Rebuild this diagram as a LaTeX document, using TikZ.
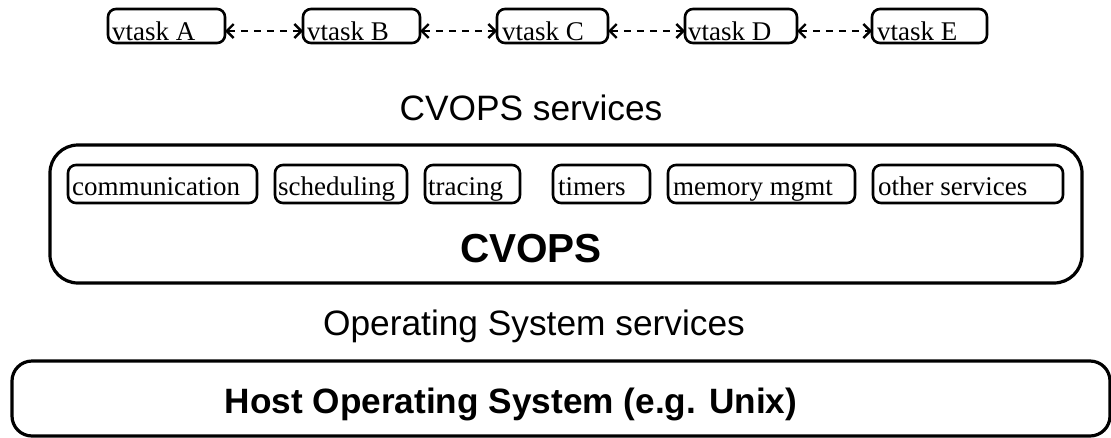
\documentclass[tikz,border=0pt]{standalone}
\usepackage{fontspec}
\setmainfont{Liberation Serif}
\newfontfamily\arialfont{Liberation Sans}
\usetikzlibrary{arrows.meta}
\begin{document}
\begin{tikzpicture}[x=1pt,y=-1pt,
  tbox/.style={draw=black, line width=2.6pt, rounded corners=8pt, rectangle, inner sep=0pt, outer sep=0pt},
  ttxt/.style={anchor=base west, inner sep=0pt, font=\fontsize{27}{30}\selectfont},
  bigbox/.style={draw=black, line width=3.2pt, rectangle, inner sep=0pt, outer sep=0pt},
  stxt/.style={anchor=base, inner sep=0pt, font=\arialfont\fontsize{35.3}{40}\selectfont},
  btxt/.style={anchor=base, inner sep=0pt, font=\arialfont\bfseries\fontsize{40.5}{45}\selectfont},
  htxt/.style={anchor=base, inner sep=0pt, font=\arialfont\bfseries\fontsize{35.2}{40}\selectfont},
  link/.style={line width=2.4pt, dash pattern=on 7pt off 6pt, {Straight Barb[length=7pt,width=14pt,line width=2.4pt]}-{Straight Barb[length=7pt,width=14pt,line width=2.4pt]}}
]
\useasboundingbox (0,0) rectangle (1111,437);

% vtasks
\node[tbox, minimum width=117pt, minimum height=34pt] (A) at (166.5,26) {};
\node[tbox, minimum width=117pt, minimum height=34pt] (B) at (361.5,26) {};
\node[tbox, minimum width=111pt, minimum height=34pt] (C) at (552.5,26) {};
\node[tbox, minimum width=112pt, minimum height=34pt] (D) at (741,26) {};
\node[tbox, minimum width=115pt, minimum height=34pt] (E) at (929.5,26) {};
\node[ttxt] (tA) at (112,40) {vtask A};
\node[ttxt] (tB) at (307,40) {vtask B};
\node[ttxt] (tC) at (502,40) {vtask C};
\node[ttxt] (tD) at (688,40) {vtask D};
\node[ttxt] (tE) at (877,40) {vtask E};

\coordinate (a1) at (A.east |- 0,31);
\coordinate (b0) at (B.west |- 0,31);
\coordinate (b1) at (B.east |- 0,31);
\coordinate (c0) at (C.west |- 0,31);
\coordinate (c1) at (C.east |- 0,31);
\coordinate (d0) at (D.west |- 0,31);
\coordinate (d1) at (D.east |- 0,31);
\coordinate (e0) at (E.west |- 0,31);
\draw[link] (a1) -- (b0);
\draw[link] (b1) -- (c0);
\draw[link] (c1) -- (d0);
\draw[link] (d1) -- (e0);

\node[stxt] (svc) at (531,120) {CVOPS services};

% CVOPS box
\node[bigbox, rounded corners=28pt, minimum width=1032pt, minimum height=138pt] (cvops) at (566,214) {};
\node[tbox, minimum width=189pt, minimum height=38pt] (comm) at (162.5,184) {};
\node[tbox, minimum width=132pt, minimum height=38pt] (sched) at (341,184) {};
\node[tbox, minimum width=95pt, minimum height=38pt] (trac) at (472.5,184) {};
\node[tbox, minimum width=97pt, minimum height=38pt] (tim) at (601.5,184) {};
\node[tbox, minimum width=187pt, minimum height=38pt] (mem) at (761.5,184) {};
\node[tbox, minimum width=190pt, minimum height=38pt] (oth) at (968,184) {};
\node[ttxt] (tcomm) at (72,195) {communication};
\node[ttxt] (tsched) at (278,195) {scheduling};
\node[ttxt] (ttrac) at (428,195) {tracing};
\node[ttxt] (ttim) at (558,195) {timers};
\node[ttxt] (tmem) at (673,195) {memory mgmt};
\node[ttxt] (toth) at (878,195) {other services};
\node[btxt] (cv) at (531,262) {CVOPS};

\node[stxt] (oss) at (534,335) {Operating System services};

% Host box
\node[bigbox, rounded corners=20pt, minimum width=1098pt, minimum height=75pt] (host) at (561,398.5) {};
\node[htxt] (ht) at (511,413) {Host Operating System (e.g. Unix)};
\end{tikzpicture}
\end{document}
